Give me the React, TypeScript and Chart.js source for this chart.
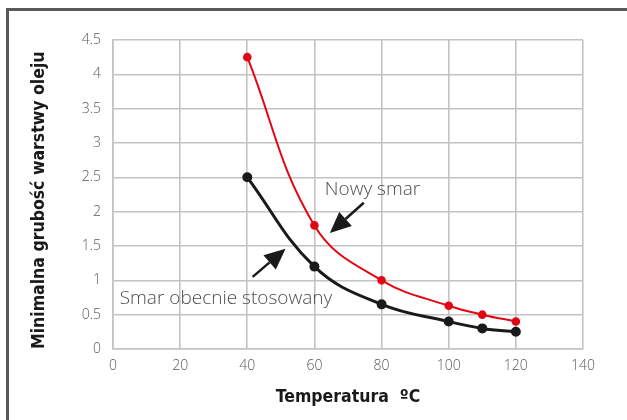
import React, { useEffect, useRef } from "react";
import { Chart, registerables } from "chart.js";

Chart.register(...registerables);

const temperatures = [40, 60, 80, 100, 110, 120];
const newGrease = [4.25, 1.8, 1.0, 0.63, 0.5, 0.4];
const currentGrease = [2.5, 1.2, 0.65, 0.4, 0.3, 0.25];

const xTitle = "Temperatura  ºC";
const yTitle = "Minimalna grubość warstwy oleju";
const newLabel = "Nowy smar";
const currentLabel = "Smar obecnie stosowany";

// annotation anchors in data units
const newLabelPos = [63.1, 2.32];
const currentLabelPos = [2.0, 0.73];
const newArrow = [74.7, 2.13, 64.6, 1.69];
const currentArrow = [41.6, 1.05, 51.4, 1.46];

const LIGHT_FONT = "'Open Sans', 'DejaVu Sans Condensed', sans-serif";
const TITLE_FONT = "'DejaVu Sans Condensed', sans-serif";

const decorPlugin = {
  id: "decor",
  beforeDraw(chart: any) {
    const ctx = chart.ctx;
    ctx.save();
    ctx.strokeStyle = "#5a5a5a";
    ctx.lineWidth = 3;
    ctx.beginPath();
    ctx.moveTo(7.5, 420);
    ctx.lineTo(7.5, 9.5);
    ctx.lineTo(627, 9.5);
    ctx.stroke();
    ctx.restore();
  },
  afterDatasetsDraw(chart: any) {
    const ctx = chart.ctx;
    const xs = chart.scales.x;
    const ys = chart.scales.y;
    ctx.save();
    ctx.fillStyle = "#4d4d4d";
    ctx.font = "300 19px " + LIGHT_FONT;
    ctx.textBaseline = "middle";
    ctx.textAlign = "left";
    ctx.fillText(newLabel, xs.getPixelForValue(newLabelPos[0]), ys.getPixelForValue(newLabelPos[1]));
    ctx.fillText(currentLabel, xs.getPixelForValue(currentLabelPos[0]), ys.getPixelForValue(currentLabelPos[1]));

    const drawArrow = (a: number[]) => {
      const x1 = xs.getPixelForValue(a[0]);
      const y1 = ys.getPixelForValue(a[1]);
      const x2 = xs.getPixelForValue(a[2]);
      const y2 = ys.getPixelForValue(a[3]);
      const ang = Math.atan2(y2 - y1, x2 - x1);
      const headLen = 21;
      const headW = 9.5;
      const bx = x2 - headLen * Math.cos(ang);
      const by = y2 - headLen * Math.sin(ang);
      ctx.strokeStyle = "#1a1a1a";
      ctx.fillStyle = "#1a1a1a";
      ctx.lineWidth = 2.5;
      ctx.beginPath();
      ctx.moveTo(x1, y1);
      ctx.lineTo(bx, by);
      ctx.stroke();
      ctx.beginPath();
      ctx.moveTo(x2, y2);
      ctx.lineTo(bx + headW * Math.sin(ang), by - headW * Math.cos(ang));
      ctx.lineTo(bx - headW * Math.sin(ang), by + headW * Math.cos(ang));
      ctx.closePath();
      ctx.fill();
    };
    drawArrow(newArrow);
    drawArrow(currentArrow);
    ctx.restore();
  },
};

export default function App() {
  const ref = useRef<HTMLCanvasElement | null>(null);
  useEffect(() => {
    document.body.style.margin = "0";
    const canvas = ref.current;
    if (!canvas) return;
    const chart = new Chart(canvas, {
      type: "line",
      data: {
        datasets: [
          {
            label: newLabel,
            data: temperatures.map((t, i) => ({ x: t, y: newGrease[i] })),
            borderColor: "#e30613",
            backgroundColor: "#e30613",
            borderWidth: 2,
            pointRadius: 3.3,
            pointHoverRadius: 3.3,
            tension: 0.4,
          },
          {
            label: currentLabel,
            data: temperatures.map((t, i) => ({ x: t, y: currentGrease[i] })),
            borderColor: "#1a1a1a",
            backgroundColor: "#1a1a1a",
            borderWidth: 3,
            pointRadius: 3.5,
            pointHoverRadius: 3.5,
            tension: 0.4,
          },
        ],
      },
      options: {
        animation: false,
        responsive: false,
        maintainAspectRatio: false,
        events: [],
        layout: { padding: { left: 0, right: 44, top: 40, bottom: 0 } },
        plugins: { legend: { display: false }, tooltip: { enabled: false } },
        scales: {
          x: {
            type: "linear",
            min: 0,
            max: 140,
            ticks: {
              stepSize: 20,
              color: "#595959",
              padding: 9,
              font: { family: LIGHT_FONT, size: 14, weight: "300" as any },
              callback: (v: any) => String(v),
            },
            grid: { color: "#c3c3c3", lineWidth: 1.6, drawTicks: false },
            border: { color: "#c3c3c3", width: 1.6 },
            title: {
              display: true,
              text: xTitle,
              color: "#1a1a1a",
              font: { family: TITLE_FONT, size: 17.5, weight: "bold" },
              padding: { top: 0, bottom: 12 },
            },
            afterFit(scale: any) {
              scale.height = 71;
            },
          },
          y: {
            min: 0,
            max: 4.5,
            ticks: {
              stepSize: 0.5,
              color: "#595959",
              padding: 12,
              font: { family: LIGHT_FONT, size: 14, weight: "300" as any },
              callback: (v: any) => String(v),
            },
            grid: { color: "#c3c3c3", lineWidth: 1.6, drawTicks: false },
            border: { color: "#c3c3c3", width: 1.6 },
            title: {
              display: true,
              text: yTitle,
              color: "#1a1a1a",
              font: { family: TITLE_FONT, size: 17.5, weight: "bold" },
              padding: { top: 29, bottom: 0 },
              align: "start",
            },
            afterFit(scale: any) {
              scale.width = 113;
            },
          },
        },
      },
      plugins: [decorPlugin],
    });
    return () => chart.destroy();
  }, []);
  return (
    <div style={{ position: "absolute", left: 0, top: 0, width: 627, height: 420, background: "#fff" }}>
      <canvas ref={ref} width={627} height={420} style={{ width: 627, height: 420 }} />
    </div>
  );
}
